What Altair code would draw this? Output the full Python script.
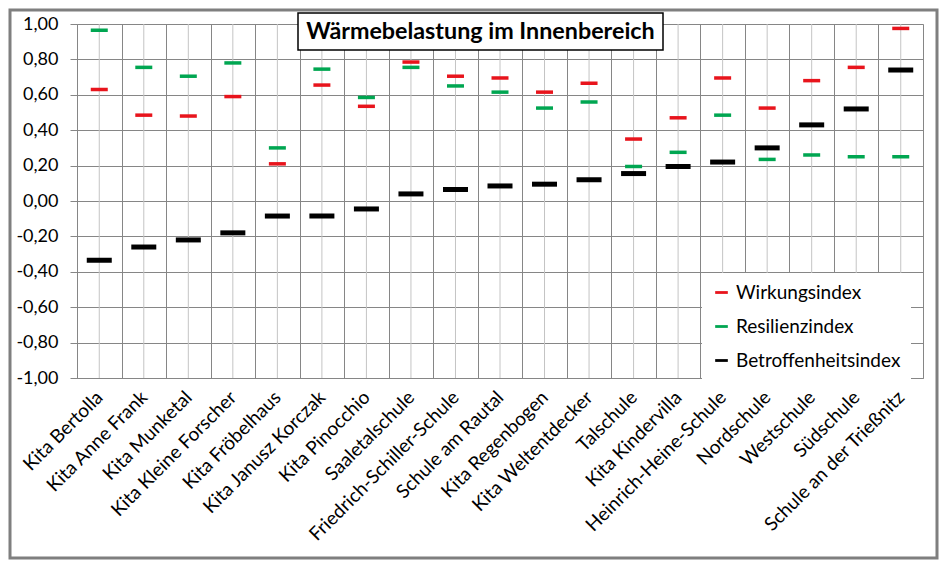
import altair as alt
import pandas as pd

categories = ["Kita Bertolla", "Kita Anne Frank", "Kita Munketal", "Kita Kleine Forscher",
              "Kita Fröbelhaus", "Kita Janusz Korczak", "Kita Pinocchio", "Saaletalschule",
              "Friedrich-Schiller-Schule", "Schule am Rautal", "Kita Regenbogen",
              "Kita Weltentdecker", "Talschule", "Kita Kindervilla", "Heinrich-Heine-Schule",
              "Nordschule", "Westschule", "Südschule", "Schule an der Trießnitz"]
wirkung = [0.63, 0.485, 0.48, 0.59, 0.21, 0.655, 0.535, 0.785, 0.705, 0.695, 0.615,
           0.665, 0.35, 0.47, 0.695, 0.525, 0.68, 0.755, 0.975]
resilienz = [0.965, 0.755, 0.705, 0.78, 0.30, 0.745, 0.585, 0.755, 0.65, 0.615, 0.525,
             0.56, 0.195, 0.275, 0.485, 0.235, 0.26, 0.25, 0.25]
betroffen = [-0.335, -0.26, -0.22, -0.18, -0.085, -0.085, -0.045, 0.04, 0.065, 0.085, 0.095,
             0.12, 0.155, 0.195, 0.22, 0.30, 0.43, 0.52, 0.74]
series_names = ["Wirkungsindex", "Resilienzindex", "Betroffenheitsindex"]
series_colors = ["#E8141C", "#00A651", "#000000"]
y_ticks = [-1.0, -0.8, -0.6, -0.4, -0.2, 0.0, 0.2, 0.4, 0.6, 0.8, 1.0]
title_text = "Wärmebelastung im Innenbereich"

rows = []
for name, vals in zip(series_names, [wirkung, resilienz, betroffen]):
    for c, v in zip(categories, vals):
        rows.append({"Einrichtung": c, "Index": name, "Wert": v})
df = pd.DataFrame(rows)
cat_df = pd.DataFrame({"Einrichtung": categories})

W, H = 846, 354
FONT = "Lato"
GRID = "#868686"

x_enc = alt.X("Einrichtung:N", sort=categories,
              scale=alt.Scale(paddingInner=0, paddingOuter=0),
              axis=alt.Axis(title=None, labelAngle=-45, labelAlign="right", labelBaseline="middle",
                            labelFont=FONT, labelFontSize=19, labelColor="black",
                            labelPadding=16, ticks=False, grid=True, tickBand="extent",
                            gridColor=GRID, domainColor=GRID, labelLimit=400,
                            labelOverlap=False))
y_enc = alt.Y("Wert:Q", scale=alt.Scale(domain=[-1, 1], nice=False),
              axis=alt.Axis(title=None, values=y_ticks, tickCount=30,
                            labelExpr="(datum.value < -0.001 ? '-' : '') + replace(format(abs(datum.value), '.2f'), '.', ',')",
                            labelFont=FONT, labelFontSize=18, labelColor="black",
                            labelPadding=12, tickSize=7, tickColor=GRID, grid=True,
                            gridColor=GRID, domainColor=GRID, labelOverlap=False))
color_enc = alt.Color("Index:N", scale=alt.Scale(domain=series_names, range=series_colors),
                      legend=alt.Legend(title=None, orient="none", legendX=625, legendY=249,
                                        fillColor="white", padding=10, labelFont=FONT,
                                        labelFontSize=19, labelColor="black", rowPadding=14,
                                        labelLimit=400,
                                        symbolType="M-1,-0.22L1,-0.22L1,0.22L-1,0.22Z",
                                        symbolSize=160, symbolStrokeWidth=0, labelOffset=5))

minor = alt.Chart(cat_df).mark_rule(color="#C4C4C4", strokeWidth=1).encode(
    x=alt.X("Einrichtung:N", sort=categories), y=alt.datum(-1), y2=alt.datum(1))

base = alt.Chart(df).encode(x=x_enc, y=y_enc, color=color_enc)
rg = base.transform_filter(alt.datum.Index != "Betroffenheitsindex").mark_tick(
    size=17, thickness=3.5, opacity=1)
blk = base.transform_filter(alt.datum.Index == "Betroffenheitsindex").mark_tick(
    size=25, thickness=5, opacity=1)

tdf = pd.DataFrame({"t": [title_text]})
box = alt.Chart(tdf).mark_rect(fill="white", stroke="black", strokeWidth=1.5).encode(
    x=alt.value(221), x2=alt.value(586), y=alt.value(-11), y2=alt.value(26))
ttl = alt.Chart(tdf).mark_text(font=FONT, fontWeight="bold", fontSize=23.3, align="center",
                               baseline="middle", color="black").encode(
    x=alt.value(403.5), y=alt.value(8), text="t:N")
frame = alt.Chart(tdf).mark_rect(fillOpacity=0, stroke="#7F7F7F", strokeWidth=3).encode(
    x=alt.value(-67), x2=alt.value(W + 14), y=alt.value(-14), y2=alt.value(H + 180))

chart = alt.layer(minor, rg, blk, box, ttl, frame).properties(
    width=W, height=H,
    padding={"left": 69, "top": 16, "right": 16, "bottom": 182},
    autosize=alt.AutoSizeParams(type="none"),
).configure_view(stroke=GRID, strokeWidth=1).configure(background="white")

chart.save("out.html", embed_options={"renderer": "svg", "actions": False})
